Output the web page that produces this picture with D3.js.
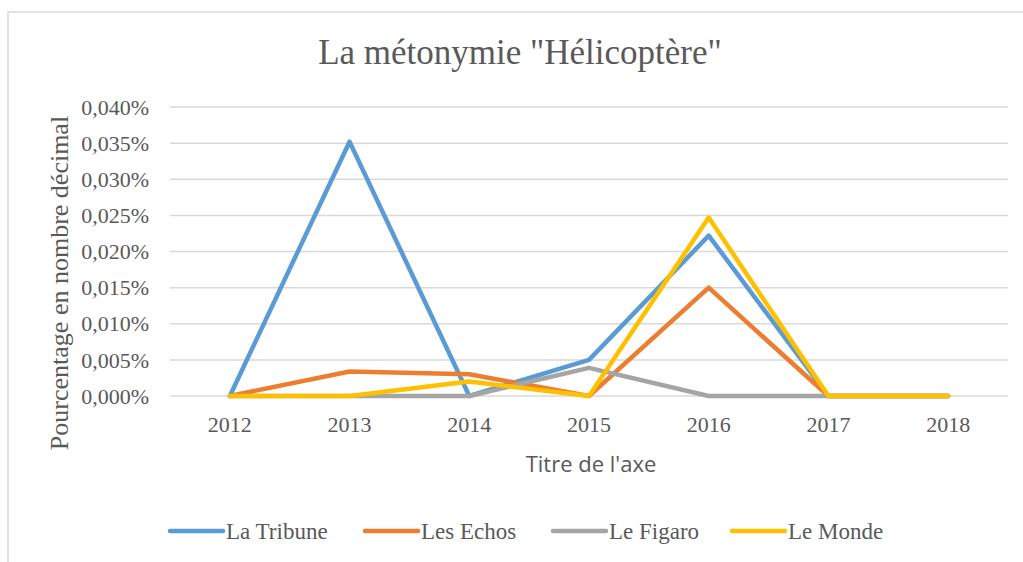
<!DOCTYPE html>
<html><head><meta charset="utf-8">
<script src="https://cdn.jsdelivr.net/npm/d3@7"></script>
<style>body{margin:0;background:#fff}svg{display:block}</style>
</head><body><svg id="c" width="1023" height="562"></svg>
<script>
const categories = ["2012","2013","2014","2015","2016","2017","2018"];
// values in percent
const laTribune = [0, 0.0352, 0, 0.0050, 0.0222, 0, 0];
const lesEchos = [0, 0.0034, 0.0030, 0, 0.0150, 0, 0];
const leFigaro = [0, 0, 0, 0.0039, 0, 0, 0];
const leMonde = [0, 0, 0.0020, 0, 0.0247, 0, 0];
const seriesNames = ["La Tribune","Les Echos","Le Figaro","Le Monde"];
const seriesColors = ["#5B9BD5","#ED7D31","#A5A5A5","#FFC000"];
const yTicks = [0,0.005,0.010,0.015,0.020,0.025,0.030,0.035,0.040];

const series = [laTribune, lesEchos, leFigaro, leMonde].map((v,i)=>({name:seriesNames[i], color:seriesColors[i], values:v}));
const svg = d3.select("#c");
const serif = "'Liberation Serif', 'DejaVu Serif', serif";

// chart border
svg.append("rect").attr("x",8).attr("y",12).attr("width",1030).attr("height",560)
  .attr("fill","#fff").attr("stroke","#D9D9D9").attr("stroke-width",1.5);

const L=170, R=1008, T=107, B=396;
const x = d3.scalePoint().domain(categories).range([L,R]).padding(0.5);
const y = d3.scaleLinear().domain([0,0.04]).range([B,T]);

// gridlines
svg.append("g").selectAll("line").data(yTicks).join("line")
  .attr("x1",L).attr("x2",R).attr("y1",d=>y(d)).attr("y2",d=>y(d))
  .attr("stroke","#D9D9D9").attr("stroke-width",1.5);

// y labels
const fmt = d => d3.format(".3f")(d).replace(".",",")+"%";
svg.append("g").selectAll("text").data(yTicks).join("text")
  .attr("x",149).attr("y",d=>y(d)).attr("dy","0.35em").attr("text-anchor","end")
  .attr("font-family",serif).attr("font-size",22).attr("fill","#595959").text(fmt);

// x labels
svg.append("g").selectAll("text").data(categories).join("text")
  .attr("x",d=>x(d)).attr("y",432).attr("text-anchor","middle")
  .attr("font-family",serif).attr("font-size",22).attr("fill","#595959").text(d=>d);

// lines
const line = d3.line().x((d,i)=>x(categories[i])).y(d=>y(d));
svg.append("g").selectAll("path").data(series).join("path")
  .attr("d",s=>line(s.values)).attr("fill","none").attr("stroke",s=>s.color)
  .attr("stroke-width",4.5).attr("stroke-linejoin","round").attr("stroke-linecap","round");

// title
svg.append("text").attr("x",520).attr("y",64).attr("text-anchor","middle")
  .attr("font-family",serif).attr("font-size",35).attr("fill","#595959")
  .text("La métonymie \"Hélicoptère\"");

// axis titles
svg.append("text").attr("x",591).attr("y",472).attr("text-anchor","middle")
  .attr("font-family","'Open Sans', sans-serif").attr("font-size",22).attr("fill","#595959")
  .text("Titre de l'axe");
svg.append("text").attr("transform","translate(68,283) rotate(-90)").attr("text-anchor","middle")
  .attr("font-family",serif).attr("font-size",26).attr("fill","#595959")
  .text("Pourcentage en nombre décimal");

// legend
const legX = [170, 365, 553, 732];
const lg = svg.append("g").selectAll("g").data(series).join("g")
  .attr("transform",(d,i)=>`translate(${legX[i]},531)`);
lg.append("line").attr("x1",0).attr("x2",53).attr("stroke",d=>d.color)
  .attr("stroke-width",4.5).attr("stroke-linecap","round");
lg.append("text").attr("x",56).attr("dy","0.35em").attr("font-family",serif)
  .attr("font-size",23).attr("fill","#595959").text(d=>d.name);
</script></body></html>
